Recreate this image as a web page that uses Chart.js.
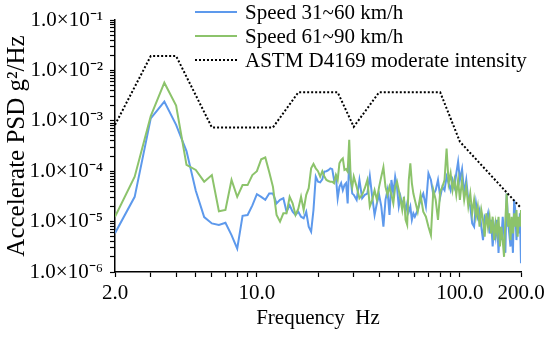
<!DOCTYPE html>
<html>
<head>
<meta charset="utf-8">
<script src="https://cdn.jsdelivr.net/npm/chart.js@4.4.1/dist/chart.umd.min.js"></script>
<style>
  html, body { margin: 0; padding: 0; background: #fff; }
</style>
</head>
<body>
<canvas id="psdChart" width="550" height="337"></canvas>
<script>
// frequency grid (Hz) shared by both measured spectra
const freq = [
  2, 2.5, 3, 3.5, 4, 4.5, 5, 5.5, 6, 6.5, 7, 7.5, 8, 8.5, 9, 9.5, 10, 10.5, 11, 11.5, 12, 12.5, 13,
  13.5, 14, 14.5, 15, 15.5, 16, 16.5, 17, 17.5, 18, 18.5, 19, 19.5, 20, 20.5, 21, 21.5, 22, 22.5,
  23, 23.5, 24, 24.5, 25, 25.5, 26, 26.5, 27, 27.5, 28, 28.5, 29, 29.5, 30,
  31, 32, 33, 34, 35, 36, 37, 38, 39, 40, 41, 42, 43, 44, 45, 46, 47, 48, 49, 50,
  51, 52, 53, 54, 55, 56, 57, 58, 59, 60,
  62, 64, 66, 68, 70, 72, 74, 76, 78, 80, 82, 84, 86, 88, 90, 92, 94, 96, 98, 100,
  102.5, 105, 107.5, 110, 112.5, 115, 117.5, 120, 122.5, 125, 127.5, 130, 132.5, 135, 137.5, 140,
  142.5, 145, 147.5, 150, 152.5, 155, 157.5, 160, 162.5, 165, 167.5, 170, 172.5, 175, 177.5, 180,
  182.5, 185, 187.5, 190, 192.5, 195, 197.5, 200
];

// Speed 31~60 km/h
const psdSpeed31to60 = [
  5.9e-6, 3.1e-5, 1.12e-3, 2.4e-3, 8.3e-4, 2.5e-4, 4.1e-5, 1.23e-5, 9.2e-6, 8.6e-6, 9.5e-6, 5.4e-6,
  2.9e-6, 1.3e-5, 1.35e-5, 2.1e-5, 3.5e-5, 3.1e-5, 2.7e-5, 3.6e-5, 3.6e-5, 2.3e-5, 2.7e-5,
  2.9e-5, 1.57e-5, 2.1e-5, 1.57e-5, 1.35e-5, 1.57e-5, 1.25e-5, 1.16e-5, 1.57e-5, 7.9e-6, 6.3e-6,
  1.7e-5, 7.8e-5, 6.2e-5, 6.0e-5, 6.9e-5, 9.8e-5, 1.0e-4, 1.05e-4, 1.14e-4, 1.1e-4, 6.7e-5,
  7.8e-5, 2.9e-5, 4.9e-5, 5.8e-5, 4.2e-5, 5.3e-5, 5.8e-5, 2.3e-5, 1.7e-4, 6.7e-5, 3.6e-5, 3.4e-5,
  2.7e-5, 6.7e-5, 2.9e-5, 3.4e-5, 3.6e-5, 8.0e-5, 3.1e-5, 1.35e-5, 2.3e-5, 3.4e-5, 2.0e-5, 7.9e-6,
  2.7e-5, 4.2e-5, 1.35e-5, 6.7e-5, 3.6e-5, 7.8e-5, 4.9e-5, 2.0e-5, 3.1e-5, 2.1e-5, 2.7e-5, 1.57e-5,
  2.3e-5, 1.57e-5, 2.0e-5, 1.08e-5, 1.46e-5, 1.25e-5,
  1.7e-5, 2.7e-5, 3.6e-5, 2.0e-5, 9.1e-5, 6.7e-5, 3.4e-5, 4.2e-5, 6.7e-5, 3.1e-5, 4.9e-5, 4.2e-5,
  7.8e-5, 5.8e-5, 4.2e-5, 6.7e-5, 4.9e-5, 9.1e-5, 1.55e-4, 6.7e-5,
  1.1e-4, 3.6e-5, 6.7e-5, 2.7e-5, 2.0e-5, 9.2e-6, 7.9e-6, 2.3e-5, 1.25e-5, 1.7e-5, 7.9e-6, 4.3e-6,
  1.25e-5, 1.08e-5, 1.46e-5, 5.8e-6, 1.08e-5, 3.2e-6, 7.9e-6, 5.0e-6, 1.08e-5, 2.4e-6, 7.9e-6,
  4.3e-6, 1.25e-5, 5.8e-6, 2.4e-6, 3.6e-5, 1.08e-5, 5.8e-6, 3.2e-6, 7.9e-6, 2.4e-6, 2.7e-5, 1.7e-5,
  4.3e-6, 1.08e-5, 5.8e-6, 1.46e-5, 1.5e-6
];

// Speed 61~90 km/h
const psdSpeed61to90 = [
  1.25e-5, 7.8e-5, 1.24e-3, 5.7e-3, 2.0e-3, 1.33e-4, 1.06e-4, 6.2e-5, 8.4e-5, 1.6e-5, 1.7e-5, 6.7e-5,
  3.1e-5, 5.3e-5, 5.3e-5, 8.4e-5, 1.0e-4, 1.72e-4, 1.87e-4, 9.6e-5, 4.9e-5, 1.35e-5, 1.0e-5,
  1.46e-5, 1.46e-5, 3.1e-5, 2.3e-5, 1.35e-5, 1.8e-5, 3.1e-5, 1.7e-5, 3.4e-5, 4.6e-5, 1.14e-4,
  1.39e-4, 1.14e-4, 1.0e-4, 7.8e-5, 1.0e-4, 7.8e-5, 6.7e-5, 6.4e-5, 6.2e-5, 6.2e-5, 5.8e-5,
  8.4e-5, 6.7e-5, 1.43e-4, 1.67e-4, 1.8e-4, 1.06e-4, 1.1e-4, 9.8e-5, 4.2e-4, 6.7e-5, 4.9e-5, 7.8e-5,
  4.9e-5, 2.9e-5, 3.4e-5, 4.6e-5, 6.7e-5, 2.0e-5, 2.7e-5, 4.2e-5, 2.7e-5, 4.9e-5, 7.8e-5, 1.2e-4,
  4.9e-5, 3.4e-5, 4.9e-5, 3.4e-5, 2.3e-5, 4.9e-5, 6.2e-5, 4.2e-5, 2.7e-5, 1.7e-5, 3.1e-5, 1.08e-5,
  8.6e-6, 6.7e-5, 1.43e-4, 5.8e-5, 3.6e-5, 2.7e-5,
  1.57e-5, 3.4e-5, 1.57e-5, 1.25e-5, 7.9e-6, 5.4e-6, 4.2e-5, 2.7e-5, 1.08e-5, 3.9e-5, 4.9e-5, 6.7e-5,
  2.8e-4, 5.8e-5, 9.1e-5, 4.2e-5, 6.7e-5, 3.4e-5, 6.7e-5, 2.7e-5,
  6.7e-5, 2.7e-5, 4.9e-5, 2.0e-5, 3.6e-5, 1.46e-5, 2.7e-5, 1.25e-5, 2.0e-5, 7.9e-6, 1.7e-5, 1.08e-5,
  5.0e-6, 1.46e-5, 7.9e-6, 1.25e-5, 5.8e-6, 1.25e-5, 4.3e-6, 9.2e-6, 5.8e-6, 1.25e-5, 3.2e-6,
  7.9e-6, 4.3e-6, 2.0e-6, 1.08e-5, 3.6e-5, 7.9e-6, 1.46e-5, 4.3e-6, 1.25e-5, 5.8e-6, 1.46e-5,
  7.9e-6, 1.7e-5, 5.0e-6, 1.25e-5, 7.9e-6, 1.7e-5
];

// ASTM D4169 moderate intensity breakpoints
const astmFreq = [2, 3, 4, 6, 12, 16, 25, 30, 40, 80, 100, 200];
const astmPsd = [8.3e-4, 1.93e-2, 1.93e-2, 7.4e-4, 7.4e-4, 3.67e-3, 3.67e-3, 7.6e-4, 3.67e-3, 3.67e-3, 3.85e-4, 1.86e-5];

// axis ticks
const xMajor = [2, 10, 100, 200];
const xMinor = [3, 4, 5, 6, 7, 8, 9, 20, 30, 40, 50, 60, 70, 80, 90];
const yMajor = [1e-6, 1e-5, 1e-4, 1e-3, 1e-2, 1e-1];
const yLabels = ["1.0×10⁻⁶", "1.0×10⁻⁵", "1.0×10⁻⁴", "1.0×10⁻³", "1.0×10⁻²", "1.0×10⁻¹"];

const toPoints = (xs, ys) => xs.map((x, i) => ({ x: x, y: ys[i] }));

Chart.defaults.font.family = '"Liberation Serif", "Times New Roman", serif';
Chart.defaults.font.size = 21;
Chart.defaults.color = "#000";

// legend drawn inside the plot, top right
const insideLegend = {
  id: "insideLegend",
  afterDraw(chart) {
    const ctx = chart.ctx;
    ctx.save();
    ctx.font = '21px "Liberation Serif", "Times New Roman", serif';
    ctx.textBaseline = "middle";
    chart.data.datasets.forEach((ds, i) => {
      const y = 12 + i * 24;
      ctx.strokeStyle = ds.borderColor;
      ctx.lineWidth = ds.borderWidth;
      ctx.setLineDash(ds.borderDash || []);
      ctx.beginPath();
      ctx.moveTo(195, y);
      ctx.lineTo(237, y);
      ctx.stroke();
      ctx.setLineDash([]);
      ctx.fillStyle = "#000";
      ctx.fillText(ds.label, 245, y + 1);
    });
    ctx.restore();
  }
};

new Chart(document.getElementById("psdChart"), {
  type: "line",
  data: {
    datasets: [
      {
        label: "Speed 31~60 km/h",
        data: toPoints(freq, psdSpeed31to60),
        borderColor: "#5d99ec",
        borderWidth: 2,
        pointRadius: 0,
        tension: 0,
        order: 3
      },
      {
        label: "Speed 61~90 km/h",
        data: toPoints(freq, psdSpeed61to90),
        borderColor: "#8cc36b",
        borderWidth: 2,
        pointRadius: 0,
        tension: 0,
        order: 2
      },
      {
        label: "ASTM D4169 moderate intensity",
        data: toPoints(astmFreq, astmPsd),
        borderColor: "#000",
        borderWidth: 2,
        borderDash: [2, 2],
        pointRadius: 0,
        tension: 0,
        order: 1
      }
    ]
  },
  options: {
    responsive: false,
    animation: false,
    devicePixelRatio: 1,
    layout: { padding: { top: 20, right: 29, left: 0, bottom: 0 } },
    plugins: {
      legend: { display: false },
      tooltip: { enabled: false }
    },
    scales: {
      x: {
        type: "logarithmic",
        min: 2,
        max: 200,
        afterBuildTicks: (scale) => {
          scale.ticks = xMajor.concat(xMinor).sort((a, b) => a - b).map((v) => ({ value: v, major: xMajor.includes(v) }));
        },
        afterFit: (scale) => { scale.height = 65; },
        ticks: {
          autoSkip: false,
          maxRotation: 0,
          padding: 4,
          callback: (v) => (xMajor.includes(v) ? v.toFixed(1) : "")
        },
        grid: { drawOnChartArea: false, tickLength: 5, tickColor: "#000", tickWidth: 1.2 },
        border: { color: "#000", width: 1.5 },
        title: { display: true, text: "Frequency  Hz", padding: { top: 0, bottom: 6 } }
      },
      y: {
        type: "logarithmic",
        min: 1e-6,
        max: 1e-1,
        afterBuildTicks: (scale) => {
          const t = [];
          yMajor.forEach((m, k) => {
            t.push({ value: m, major: true });
            if (k < yMajor.length - 1) {
              for (let s = 2; s <= 9; s++) t.push({ value: s * m, major: false });
            }
          });
          scale.ticks = t;
        },
        afterFit: (scale) => { scale.width = 115; },
        ticks: {
          autoSkip: false,
          padding: 7,
          callback: (v) => {
            const i = yMajor.indexOf(v);
            return i >= 0 ? yLabels[i] : "";
          }
        },
        grid: { drawOnChartArea: false, tickLength: 5, tickColor: "#000", tickWidth: 1.2 },
        border: { color: "#000", width: 1.5 },
        title: {
          display: true,
          text: "Accelerate PSD g²/Hz",
          font: { size: 25 },
          padding: { top: 2, bottom: 0 }
        }
      }
    }
  },
  plugins: [insideLegend]
});
</script>
</body>
</html>
